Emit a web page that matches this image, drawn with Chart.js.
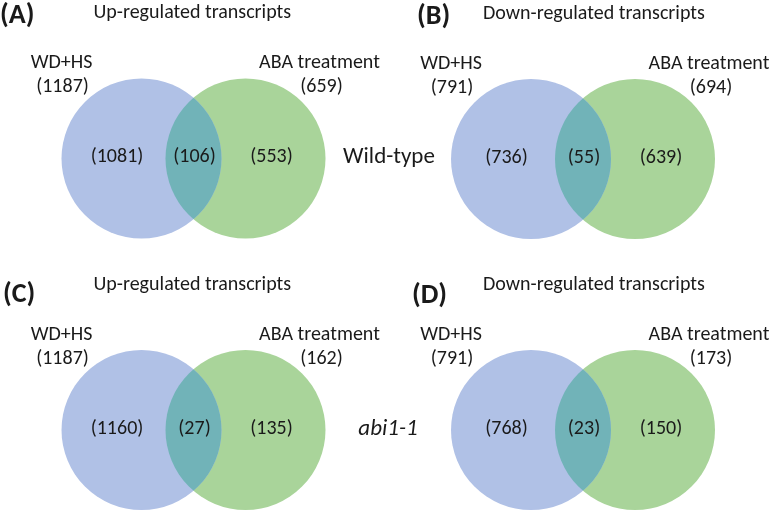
<!DOCTYPE html>
<html>
<head>
<meta charset="utf-8">
<script src="https://cdn.jsdelivr.net/npm/chart.js@4/dist/chart.umd.min.js"></script>
<style>
  html, body { margin: 0; padding: 0; background: #fff; }
  canvas { display: block; }
</style>
</head>
<body>
<canvas id="vennChart" width="771" height="511"></canvas>
<script>
// values
const panelTags = ['(A)', '(B)', '(C)', '(D)'];
const panelTitles = ['Up-regulated transcripts', 'Down-regulated transcripts', 'Up-regulated transcripts', 'Down-regulated transcripts'];
const setNames = ['WD+HS', 'ABA treatment'];
const wdhsTotal = [1187, 791, 1187, 791];
const abaTotal = [659, 694, 162, 173];
const wdhsOnly = [1081, 736, 1160, 768];
const shared = [106, 55, 27, 23];
const abaOnly = [553, 639, 135, 150];
const rowLabels = ['Wild-type', 'abi1-1'];

// layout (canvas units = scale units)
const blueCenters = [[141.5, 158.5], [531, 159], [141.5, 430], [531, 430]];
const greenDx = 104;
const radius = 80;
const tagX = [0, 417, 3, 412];
const tagY = [23, 24, 302, 303];

const BLUE = '#b0c1e6';
const GREEN = '#a9d49a';
const TEAL = '#71b3b8';
const FONT = 'Carlito, Lato, sans-serif';

const ctx = document.getElementById('vennChart').getContext('2d');

const vennPlugin = {
  id: 'venn',
  afterDatasetsDraw(chart) {
    const c = chart.ctx;
    const xs = chart.scales.x, ys = chart.scales.y;
    const px = v => xs.getPixelForValue(v);
    const py = v => ys.getPixelForValue(v);

    // overlap lens
    blueCenters.forEach(([bx, by]) => {
      c.save();
      c.beginPath();
      c.arc(px(bx), py(by), radius, 0, Math.PI * 2);
      c.clip();
      c.beginPath();
      c.arc(px(bx + greenDx), py(by), radius, 0, Math.PI * 2);
      c.fillStyle = TEAL;
      c.fill();
      c.restore();
    });

    c.save();
    c.fillStyle = '#1a1a1a';
    c.textBaseline = 'alphabetic';
    blueCenters.forEach(([bx, by], i) => {
      const top = by - 158.5;
      c.font = 'bold 28px ' + FONT;
      c.textAlign = 'left';
      c.fillText(panelTags[i], px(tagX[i]), py(tagY[i]));

      c.font = '20px ' + FONT;
      c.fillText(panelTitles[i], px(bx - 48), py(top + 18));

      c.textAlign = 'center';
      c.fillText(setNames[0], px(bx - 80), py(top + 68));
      c.fillText('(' + wdhsTotal[i] + ')', px(bx - 79), py(top + 92));
      c.fillText(setNames[1], px(bx + 178), py(top + 68));
      c.fillText('(' + abaTotal[i] + ')', px(bx + 180), py(top + 92));

      c.fillText('(' + wdhsOnly[i] + ')', px(bx - 24.5), py(top + 162));
      c.fillText('(' + shared[i] + ')', px(bx + 53), py(top + 162));
      c.fillText('(' + abaOnly[i] + ')', px(bx + 130), py(top + 162));
    });

    c.textAlign = 'center';
    c.font = '23px ' + FONT;
    c.fillText(rowLabels[0], px(389), py(163));
    c.font = 'italic 23px ' + FONT;
    c.fillText(rowLabels[1], px(388), py(435));
    c.restore();
  }
};

new Chart(ctx, {
  type: 'bubble',
  data: {
    datasets: [
      {
        label: setNames[0],
        data: blueCenters.map(([x, y]) => ({ x, y, r: radius })),
        backgroundColor: BLUE,
        borderWidth: 0,
        clip: false
      },
      {
        label: setNames[1],
        data: blueCenters.map(([x, y]) => ({ x: x + greenDx, y, r: radius })),
        backgroundColor: GREEN,
        borderWidth: 0,
        clip: false
      }
    ]
  },
  options: {
    responsive: false,
    devicePixelRatio: 1,
    animation: false,
    events: [],
    layout: { padding: 0, autoPadding: false },
    plugins: {
      legend: { display: false },
      tooltip: { enabled: false }
    },
    elements: { point: { hoverRadius: 0, hoverBorderWidth: 0 } },
    scales: {
      x: { type: 'linear', min: 0, max: 771, display: false },
      y: { type: 'linear', min: 0, max: 511, reverse: true, display: false }
    }
  },
  plugins: [vennPlugin]
});
</script>
</body>
</html>
